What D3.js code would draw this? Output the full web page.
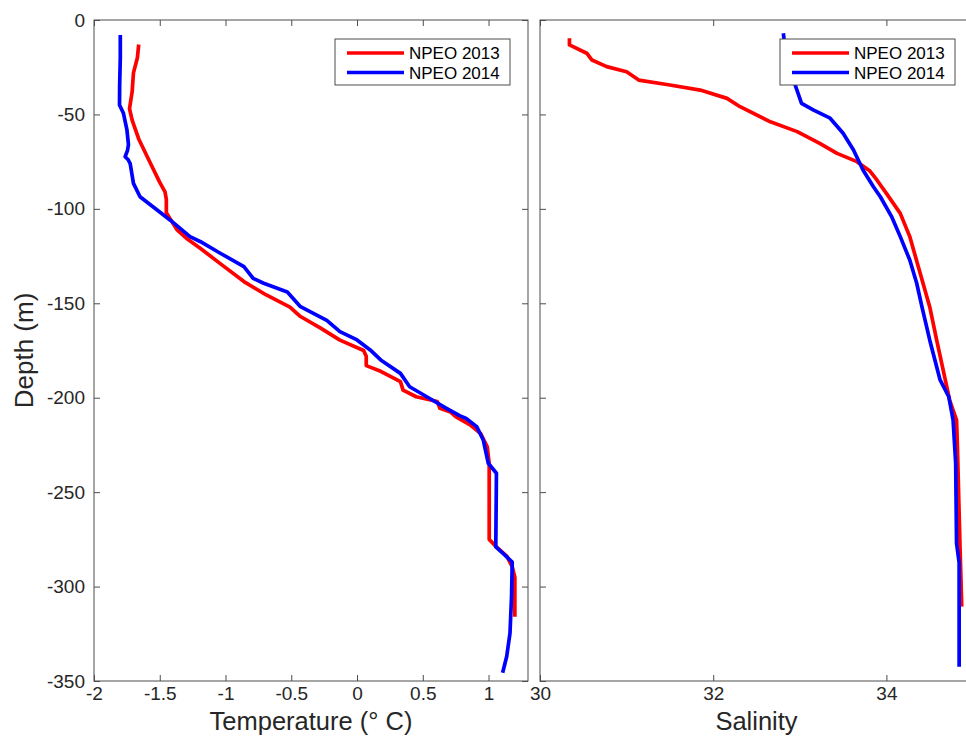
<!DOCTYPE html>
<html>
<head>
<meta charset="utf-8">
<script src="https://cdn.jsdelivr.net/npm/d3@7"></script>
<style>
  body { margin: 0; background: #fff; }
  svg { font-family: "Liberation Sans", Arial, Helvetica, sans-serif; }
  .frame { fill: none; stroke: #4d4d4d; stroke-width: 1; }
  .axis path { display: none; }
  .axis line { stroke: #4d4d4d; }
  .axis text { fill: #262626; font-size: 19px; }
</style>
</head>
<body>
<script>
// [value, depth]
const temp2013 = [[-1.66,-13],[-1.67,-20],[-1.70,-28],[-1.71,-38],[-1.73,-47],[-1.71,-53],[-1.66,-63],[-1.57,-76],[-1.50,-86],[-1.46,-91],[-1.45,-95],[-1.45,-102],[-1.37,-111],[-1.29,-116],[-1.19,-121],[-1.04,-129],[-0.86,-138.5],[-0.69,-145.6],[-0.51,-152],[-0.43,-157],[-0.28,-163],[-0.13,-169.5],[0.05,-175],[0.07,-178],[0.07,-183],[0.18,-186],[0.33,-191.5],[0.35,-196],[0.45,-199.5],[0.61,-202],[0.63,-205.6],[0.71,-207.5],[0.75,-210],[0.86,-214.4],[0.94,-219],[0.99,-226],[1.005,-235],[1.005,-275],[1.06,-279],[1.14,-284],[1.18,-289.5],[1.20,-295],[1.20,-316]]
const temp2014 = [[-1.80,-8],[-1.80,-20],[-1.805,-35],[-1.806,-45],[-1.776,-49.4],[-1.75,-58],[-1.738,-66],[-1.745,-69],[-1.763,-72.4],[-1.74,-74],[-1.725,-76],[-1.70,-86.5],[-1.65,-93.6],[-1.52,-100.6],[-1.42,-106],[-1.27,-114.7],[-1.19,-117.4],[-1.04,-123.5],[-0.86,-130.6],[-0.79,-136.8],[-0.71,-139.4],[-0.53,-144],[-0.43,-151.8],[-0.23,-159],[-0.13,-165],[0.00,-169.4],[0.10,-174.7],[0.18,-180],[0.33,-187.1],[0.40,-194.2],[0.53,-199.5],[0.68,-205.6],[0.78,-209.5],[0.83,-211],[0.91,-215.3],[0.96,-222.4],[0.998,-234.7],[1.06,-240],[1.055,-279],[1.11,-282.4],[1.18,-287],[1.175,-305],[1.163,-324.7],[1.138,-337],[1.107,-345.6]]
const sal2013 = [[30.34,-9.7],[30.34,-13.2],[30.54,-17.6],[30.60,-21.2],[30.77,-24.7],[31.00,-27.4],[31.14,-31.8],[31.50,-34.4],[31.85,-37.1],[32.16,-41.5],[32.31,-45.9],[32.66,-53.9],[32.97,-59.1],[33.23,-65.3],[33.43,-70.6],[33.66,-75],[33.81,-80],[33.89,-84.7],[34.00,-91.8],[34.16,-102.4],[34.27,-114.7],[34.39,-134.1],[34.50,-151.8],[34.58,-169.4],[34.68,-190.6],[34.73,-201.2],[34.81,-211.8],[34.82,-225.9],[34.85,-278.9],[34.87,-310.6]]
const sal2014 = [[32.81,-7],[32.83,-15],[32.87,-25],[32.946,-34.4],[33.02,-44.1],[33.16,-47.7],[33.35,-52],[33.50,-60],[33.62,-68.8],[33.73,-79.4],[33.85,-88.3],[33.93,-93.6],[34.06,-104.1],[34.16,-114.7],[34.27,-127.1],[34.35,-139.4],[34.41,-151.8],[34.50,-169.4],[34.62,-190.6],[34.72,-199.5],[34.77,-211.8],[34.80,-234.7],[34.81,-277.1],[34.84,-287.4],[34.84,-342.4]]

const seriesNames = ['NPEO 2013', 'NPEO 2014']
const seriesColors = ['#ff0000', '#0000ff']
const depthTicks = [-350, -300, -250, -200, -150, -100, -50, 0]
const tempTicks = [-2, -1.5, -1, -0.5, 0, 0.5, 1]
const salTicks = [30, 32, 34]

const W = 966, H = 738
const plotTop = 20, plotBottom = 681, tick = 6

const svg = d3.select('body').append('svg')
  .attr('width', W)
  .attr('height', H)

const y = d3.scaleLinear().domain([-350, 0]).range([plotBottom, plotTop])

function panel(x0, x1, domain, xTicks, data, showY, xLabel, legendX) {
  const x = d3.scaleLinear().domain(domain).range([x0, x1])
  const g = svg.append('g')

  // ticks point inwards, like the original
  g.append('g').attr('class', 'axis')
    .attr('transform', `translate(0,${plotBottom})`)
    .call(d3.axisBottom(x).tickValues(xTicks).tickSize(-tick).tickPadding(6).tickFormat(d => d))
  g.append('g').attr('class', 'axis')
    .attr('transform', `translate(0,${plotTop})`)
    .call(d3.axisTop(x).tickValues(xTicks).tickSize(-tick).tickFormat(''))
  g.append('g').attr('class', 'axis')
    .attr('transform', `translate(${x0},0)`)
    .call(d3.axisLeft(y).tickValues(depthTicks).tickSize(-tick).tickPadding(9)
      .tickFormat(showY ? (d => d) : ''))
  g.append('g').attr('class', 'axis')
    .attr('transform', `translate(${x1},0)`)
    .call(d3.axisRight(y).tickValues(depthTicks).tickSize(-tick).tickFormat(''))

  g.append('rect').attr('class', 'frame')
    .attr('x', x0).attr('y', plotTop)
    .attr('width', x1 - x0).attr('height', plotBottom - plotTop)

  const line = d3.line().x(d => x(d[0])).y(d => y(d[1]))
  data.forEach((s, i) => {
    g.append('path')
      .datum(s)
      .attr('d', line)
      .attr('fill', 'none')
      .attr('stroke', seriesColors[i])
      .attr('stroke-width', 3.7)
      .attr('stroke-linejoin', 'round')
  })

  g.append('text')
    .attr('x', (x0 + x1) / 2)
    .attr('y', 730)
    .attr('text-anchor', 'middle')
    .attr('fill', '#262626')
    .style('font-size', '25.5px')
    .text(xLabel)

  // legend
  const lg = g.append('g').attr('transform', `translate(${legendX},39)`)
  lg.append('rect')
    .attr('width', 175).attr('height', 46)
    .attr('fill', '#fff').attr('stroke', '#4d4d4d').attr('stroke-width', 1)
  seriesNames.forEach((n, i) => {
    lg.append('line')
      .attr('x1', 12).attr('x2', 69)
      .attr('y1', 14 + i * 19.5).attr('y2', 14 + i * 19.5)
      .attr('stroke', seriesColors[i]).attr('stroke-width', 3.7)
    lg.append('text')
      .attr('x', 74).attr('y', 14 + i * 19.5)
      .attr('dy', '0.36em')
      .attr('fill', '#000')
      .style('font-size', '17px')
      .text(n)
  })
}

panel(94, 528, [-2, 1.3], tempTicks, [temp2013, temp2014], true, 'Temperature (° C)', 335)
panel(540, 973, [30, 35], salTicks, [sal2013, sal2014], false, 'Salinity', 780)

svg.append('text')
  .attr('transform', `translate(33,${(plotTop + plotBottom) / 2}) rotate(-90)`)
  .attr('text-anchor', 'middle')
  .attr('fill', '#262626')
  .style('font-size', '26px')
  .text('Depth (m)')
</script>
</body>
</html>
